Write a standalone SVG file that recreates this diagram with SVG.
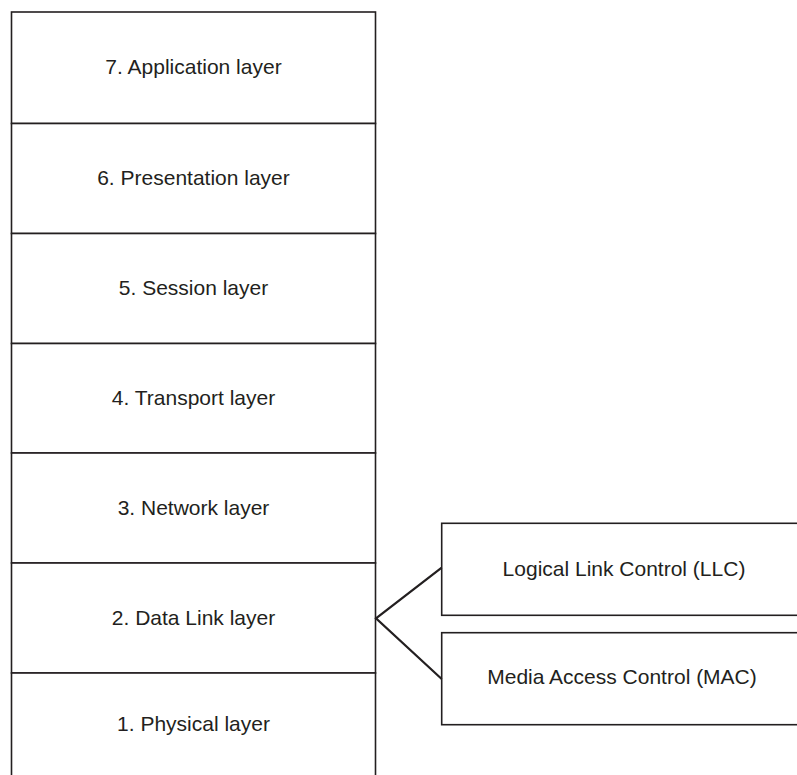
<svg xmlns="http://www.w3.org/2000/svg" width="797" height="775" viewBox="0 0 797 775">
<style>
.box{fill:#fff;stroke:#231f20;stroke-width:1.6}
.t{font-family:"Liberation Sans",Arial,sans-serif;font-size:21px;fill:#231f20;text-anchor:middle}
.conn{fill:none;stroke:#231f20;stroke-width:2.2;stroke-linejoin:miter}
</style>
<rect width="797" height="775" fill="#fff"/>
<g id="layer7"><rect class="box" x="11.5" y="12" width="364" height="111.5"/><text class="t" x="193.5" y="74">7. Application layer</text></g>
<g id="layer6"><rect class="box" x="11.5" y="123.5" width="364" height="110"/><text class="t" x="193.5" y="185">6. Presentation layer</text></g>
<g id="layer5"><rect class="box" x="11.5" y="233.5" width="364" height="110"/><text class="t" x="193.5" y="295">5. Session layer</text></g>
<g id="layer4"><rect class="box" x="11.5" y="343.5" width="364" height="109.5"/><text class="t" x="193.5" y="405">4. Transport layer</text></g>
<g id="layer3"><rect class="box" x="11.5" y="453" width="364" height="110"/><text class="t" x="193.5" y="515">3. Network layer</text></g>
<g id="layer2"><rect class="box" x="11.5" y="563" width="364" height="110"/><text class="t" x="193.5" y="625">2. Data Link layer</text></g>
<g id="layer1"><rect class="box" x="11.5" y="673" width="364" height="120"/><text class="t" x="193.5" y="731">1. Physical layer</text></g>
<g id="llc"><rect class="box" x="441.7" y="523.3" width="380" height="92"/><text class="t" x="624" y="576">Logical Link Control (LLC)</text></g>
<g id="mac"><rect class="box" x="441.7" y="632.7" width="380" height="92"/><text class="t" x="622" y="684">Media Access Control (MAC)</text></g>
<g id="connectors"><polyline class="conn" points="441.7,567.7 376,618.3 441.7,679"/></g>
</svg>
